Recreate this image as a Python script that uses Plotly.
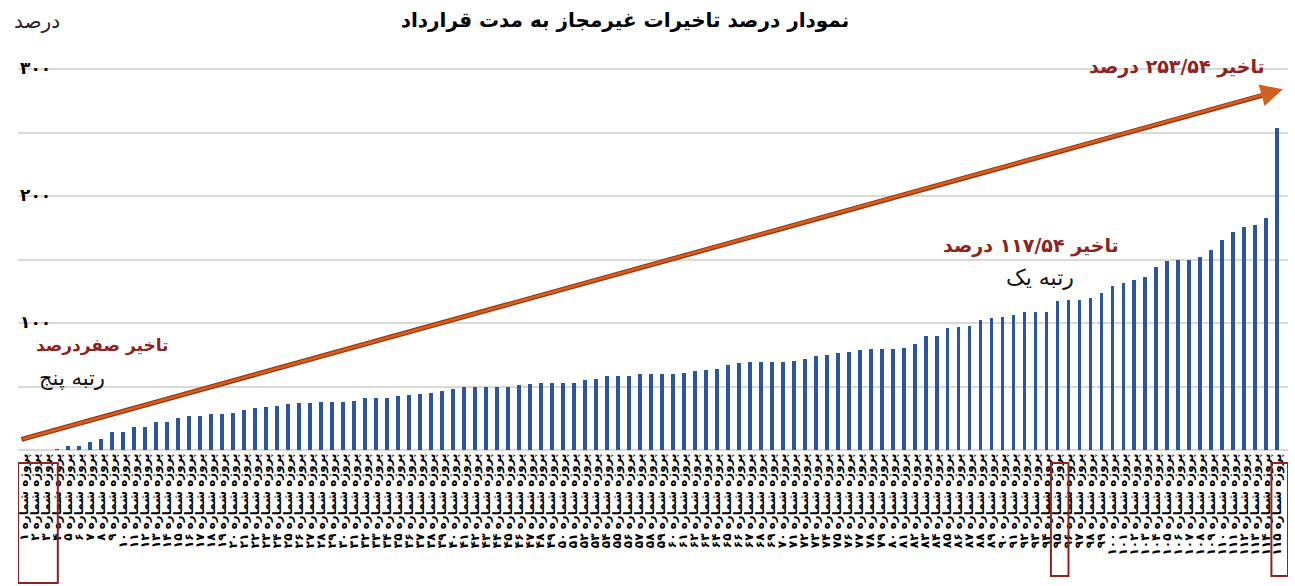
import plotly.graph_objects as go

# ---- data ----
delay_pct = [
    0, 0, 0, 0.5, 3, 3, 6, 9, 14.5, 14.5,
    18.4, 18.4, 22.4, 22.4, 25.5, 26.8, 26.8, 28, 28, 29.5,
    31.6, 32.9, 34.2, 34.7, 36, 36.8, 36.8, 37.6, 37.6, 37.6,
    38.9, 40.8, 40.8, 40.8, 42.9, 43.4, 44, 44.5, 46.8, 48.1,
    49.5, 49.5, 49.5, 50, 50, 51, 52, 53, 53, 53,
    53, 55.2, 56.3, 57.9, 57.9, 57.9, 60, 60, 60, 60,
    61, 62.1, 63.1, 63.9, 67.1, 68.4, 69.2, 69.2, 69.2, 69.2,
    70.2, 71.8, 74.2, 75.2, 76.3, 77.4, 79, 79.5, 79.5, 79.5,
    80.5, 83.5, 89.5, 89.5, 95.8, 96.8, 97.9, 102.6, 103.8, 104.9,
    106.6, 108.7, 108.7, 108.7, 117.54, 118, 118, 119.5, 123.7, 128.9,
    131.7, 133.8, 136, 144, 148.6, 149.4, 149.4, 152, 157.3, 165.2,
    171.5, 175.3, 176.8, 182.6, 253.54,
]
project_numbers = list(range(1, len(delay_pct) + 1))
fa_digits = str.maketrans("0123456789", "۰۱۲۳۴۵۶۷۸۹")
tick_labels = ["<b>پروژه شماره " + str(n).translate(fa_digits) + "</b>" for n in project_numbers]

y_tick_values = [100, 200, 300]
y_tick_text = ["۱۰۰", "۲۰۰", "۳۰۰"]
y_grid_step = 50

title_text = "نمودار درصد تاخیرات غیرمجاز به مدت قرارداد"
y_title = "درصد"
note_max = "تاخیر ۲۵۳/۵۴ درصد"
note_rank1 = "تاخیر ۱۱۷/۵۴ درصد"
note_rank1_sub = "رتبه یک"
note_rank5 = "تاخیر صفردرصد"
note_rank5_sub = "رتبه پنج"

FONT = "DejaVu Sans"
DARK_RED = "#8B2424"
GRID = "#D9D9D9"
W, H = 1295, 586
PX_PER_UNIT = 1.27
L, R, B = 18, 7, 136
Y_TOP = 320
T = int(round(H - B - Y_TOP * PX_PER_UNIT))
PW, PH = W - L - R, H - T - B


def px_x(px):
    return (px - L) / PW


def px_y(py):
    return (H - B - py) / PH


x_idx = list(range(len(delay_pct)))

fig = go.Figure()
fig.add_trace(go.Bar(
    x=x_idx, y=delay_pct, width=0.36,
    marker=dict(color="#2B559C", line=dict(width=0)),
))

# trend arrow: dark edge underneath, orange core with head on top
fig.add_shape(type="line", xref="x", yref="y", x0=-0.2, y0=8.4, x1=113.2, y1=280.6,
              line=dict(color="#9B3512", width=5), layer="above")
fig.add_annotation(
    x=114.5, y=284, xref="x", yref="y",
    ax=-0.2, ay=8.4, axref="x", ayref="y",
    showarrow=True, arrowhead=2, arrowsize=1.7, arrowwidth=2.6,
    arrowcolor="#D2601F", text="",
)

# y-axis value labels sitting at the left end of their gridlines
for v, t in zip(y_tick_values, y_tick_text):
    fig.add_annotation(
        x=0, y=v, xref="paper", yref="y", yshift=1, showarrow=False,
        text="<b>%s</b>" % t, font=dict(family=FONT, size=17, color="#000000"),
        xanchor="left", yanchor="middle",
    )


def note(text, cx, cy, color, size=19, bold=True):
    fig.add_annotation(
        x=px_x(cx), y=px_y(cy), xref="paper", yref="paper", showarrow=False,
        text=("<b>%s</b>" % text) if bold else text,
        font=dict(family=FONT, size=size, color=color),
        xanchor="center", yanchor="middle",
    )


note(note_max, 1177, 66, DARK_RED)
note(note_rank1, 1031, 245, DARK_RED)
note(note_rank1_sub, 1040, 277, "#111111", size=22, bold=False)
note(note_rank5, 102, 345, DARK_RED, size=17)
note(note_rank5_sub, 72, 378, "#111111", size=21, bold=False)
note(y_title, 37, 21, "#222222", size=20, bold=False)

# red boxes around highlighted labels
box_style = dict(type="rect", xref="x", yref="paper",
                 line=dict(color="#8B2323", width=2), fillcolor="rgba(0,0,0,0)")
fig.add_shape(x0=-0.52, x1=3.1, y0=px_y(463), y1=px_y(583), **box_style)
fig.add_shape(x0=93.4, x1=95.0, y0=px_y(463), y1=px_y(576), **box_style)
fig.add_shape(x0=113.45, x1=114.96, y0=px_y(463), y1=px_y(576), **box_style)

fig.update_layout(
    width=W, height=H,
    margin=dict(l=L, r=R, t=T, b=B, autoexpand=False),
    paper_bgcolor="white", plot_bgcolor="white",
    showlegend=False, bargap=0,
    font=dict(family=FONT, color="#000000"),
    title=dict(text="<b>%s</b>" % title_text, xref="container", yref="container",
               x=625 / W, y=1 - 20 / H, xanchor="center", yanchor="middle",
               font=dict(family=FONT, size=20, color="#000000")),
    xaxis=dict(
        range=[-0.52, 114.96], tickmode="array", tickvals=x_idx, ticktext=tick_labels,
        tickangle=-90, tickfont=dict(family=FONT, size=12, color="#000000"),
        ticklabeloverflow="allow",
        showgrid=False, zeroline=False, showline=False, ticks="", automargin=False,
    ),
    yaxis=dict(
        range=[0, PH / PX_PER_UNIT], tickmode="array", tickvals=y_tick_values,
        showticklabels=False,
        showgrid=True, gridcolor=GRID, gridwidth=1.5,
        zeroline=True, zerolinecolor=GRID, zerolinewidth=1.5, showline=False,
        ticks="", automargin=False,
        minor=dict(tickmode="linear", tick0=0, dtick=y_grid_step, showgrid=True,
                   gridcolor=GRID, gridwidth=1.5, ticks=""),
    ),
)

fig.write_html("out.html", config={"displayModeBar": False},
               post_script="document.body.style.margin='0';")
